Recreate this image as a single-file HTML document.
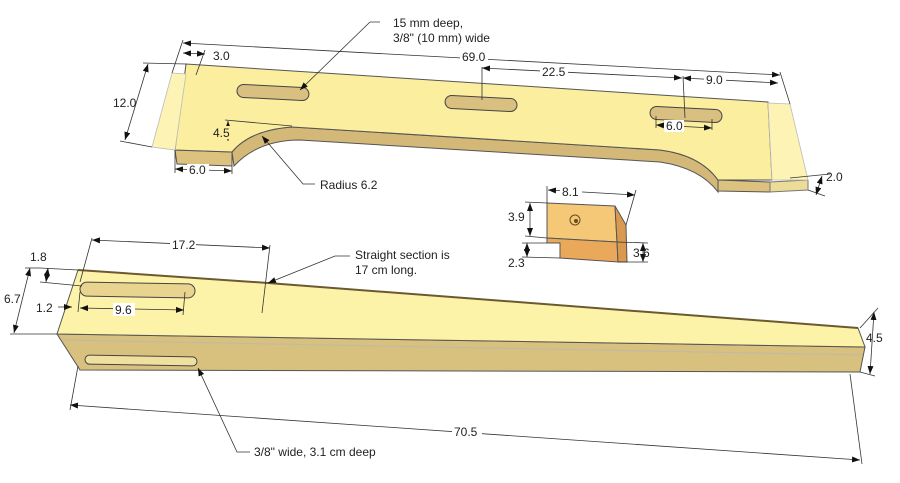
<!DOCTYPE html>
<html><head><meta charset="utf-8"><style>
html,body{margin:0;padding:0;background:#fff;}
svg{display:block;}
text{font-family:"Liberation Sans",sans-serif;font-size:12px;fill:#222;}
</style></head><body>
<svg width="900" height="483" viewBox="0 0 900 483" xmlns="http://www.w3.org/2000/svg">
<defs>
<marker id="a" markerWidth="8" markerHeight="6" refX="8" refY="3" orient="auto-start-reverse" markerUnits="userSpaceOnUse"><path d="M0,0 L8,3 L0,6 z" fill="#111"/></marker>
</defs>

<!-- TOP PIECE -->
<polygon points="175,150 232,152 232,166 177,164" fill="#dcc27e" stroke="#555" stroke-width="1"/>
<path d="M232,152 Q250,130 292,127 L660,150 Q700,155 718,180 L718,192 Q700,168 660,162 L300,140 Q258,140 234,166 Z" fill="#d4b877" stroke="#555" stroke-width="1"/>
<polygon points="718,180 770,182 770,192 718,191" fill="#dcc27e" stroke="#555" stroke-width="1"/>
<polygon points="770,182 808,180 808,190 770,192" fill="#ecdc98" stroke="#777" stroke-width="1"/>
<path d="M186,64 L768,102 L772,180 L718,180 Q700,155 660,150 L292,127 Q250,130 232,152 L175,150 Z" fill="#fbee9f" stroke="#555" stroke-width="1"/>
<polygon points="172,73 186,74 175,150 152,147" fill="#fcf3b4" stroke="#bbb" stroke-width="0.8"/>
<polygon points="768,103 790,104 808,180 772,180" fill="#fcf3b4" stroke="#bbb" stroke-width="0.8"/>
<g fill="#d9c080" stroke="#444" stroke-width="1">
<rect x="237" y="86" width="72" height="13" rx="6.5" transform="rotate(3 273 92)"/>
<rect x="445" y="97" width="72" height="13" rx="6.5" transform="rotate(3 481 104)"/>
<rect x="650" y="108" width="72" height="13" rx="6.5" transform="rotate(3 686 115)"/>
</g>

<!-- BOTTOM PIECE -->
<polygon points="57,334 865,347 860,372 80,370" fill="#d8c07e" stroke="#555" stroke-width="1"/>
<polygon points="78,270 268,283 858,328 865,347 57,334" fill="#fcf3a8" stroke="#555" stroke-width="1"/>
<polyline points="78,270 268,283 858,328" fill="none" stroke="#6b5a30" stroke-width="2"/>
<line x1="62" y1="340" x2="862" y2="355" stroke="#bba" stroke-width="1"/>
<rect x="80" y="283" width="115" height="14" rx="7" fill="#e8d38f" stroke="#444" stroke-width="1" transform="rotate(1 137 290)"/>
<rect x="85" y="356" width="112" height="9" rx="4.5" fill="#efe0a0" stroke="#444" stroke-width="1" transform="rotate(1 140 360)"/>

<!-- BLOCK -->
<polygon points="547,203 615,206 617,242 547,238" fill="#f5c878" stroke="#555" stroke-width="1"/>
<polygon points="547,238 617,242 618,262 560,258 560,243 547,243" fill="#e9a85a" stroke="#555" stroke-width="1"/>
<polygon points="615,206 626,225 627,262 618,262 617,242" fill="#d99a50" stroke="#555" stroke-width="1"/>
<circle cx="575" cy="220" r="5" fill="none" stroke="#6b4a20"/><circle cx="576" cy="221" r="2" fill="#6b4a20"/>

<!-- DIMENSIONS -->
<g stroke="#333" stroke-width="0.8" fill="none">
<line x1="183" y1="40" x2="172" y2="73"/>
<line x1="780" y1="72" x2="790" y2="104"/>
<line x1="183" y1="43" x2="780" y2="75" marker-start="url(#a)" marker-end="url(#a)"/>
<line x1="205" y1="50" x2="196" y2="75"/>
<line x1="183" y1="53" x2="205" y2="54" marker-start="url(#a)" marker-end="url(#a)"/>
<line x1="482" y1="67" x2="482" y2="100"/>
<line x1="482" y1="68" x2="682" y2="78" marker-start="url(#a)" marker-end="url(#a)"/>
<line x1="683" y1="76" x2="685" y2="118"/>
<line x1="683" y1="78" x2="778" y2="83" marker-start="url(#a)" marker-end="url(#a)"/>
<line x1="656" y1="116" x2="656" y2="128"/><line x1="712" y1="119" x2="712" y2="130"/>
<line x1="656" y1="125" x2="712" y2="128" marker-start="url(#a)" marker-end="url(#a)"/>
<line x1="143" y1="63" x2="186" y2="64"/>
<line x1="120" y1="141" x2="152" y2="147"/>
<line x1="148" y1="64" x2="125" y2="140" marker-start="url(#a)" marker-end="url(#a)"/>
<line x1="225" y1="120" x2="292" y2="126"/>
<line x1="228" y1="121" x2="228" y2="141" marker-start="url(#a)" marker-end="url(#a)"/>
<line x1="175" y1="150" x2="175" y2="173"/><line x1="232" y1="166" x2="232" y2="174"/>
<line x1="175" y1="169" x2="232" y2="171" marker-start="url(#a)" marker-end="url(#a)"/>
<line x1="790" y1="178" x2="830" y2="174"/><line x1="808" y1="190" x2="825" y2="196"/>
<line x1="822" y1="176" x2="816" y2="195" marker-start="url(#a)" marker-end="url(#a)"/>
<polyline points="380,22 370,22 300,90" marker-end="url(#a)"/>
<polyline points="315,184 303,184 262,136" marker-end="url(#a)"/>
<line x1="547" y1="186" x2="547" y2="203"/><line x1="636" y1="190" x2="626" y2="225"/>
<line x1="548" y1="190" x2="635" y2="195" marker-start="url(#a)" marker-end="url(#a)"/>
<line x1="525" y1="202" x2="547" y2="203"/><line x1="525" y1="236" x2="547" y2="238"/>
<line x1="530" y1="203" x2="530" y2="236" marker-start="url(#a)" marker-end="url(#a)"/>
<line x1="522" y1="243" x2="547" y2="243"/><line x1="522" y1="257" x2="560" y2="258"/>
<line x1="527" y1="243" x2="527" y2="257" marker-start="url(#a)" marker-end="url(#a)"/>
<line x1="617" y1="242" x2="648" y2="243"/><line x1="618" y1="262" x2="648" y2="262"/>
<line x1="643" y1="243" x2="643" y2="262" marker-start="url(#a)" marker-end="url(#a)"/>
<line x1="92" y1="238" x2="80" y2="282"/><line x1="270" y1="245" x2="262" y2="313"/>
<line x1="92" y1="240" x2="270" y2="248" marker-start="url(#a)" marker-end="url(#a)"/>
<polyline points="350,256 335,256 268,283" marker-end="url(#a)"/>
<line x1="40" y1="268" x2="78" y2="270"/><line x1="40" y1="282" x2="82" y2="286"/>
<line x1="48" y1="268" x2="46" y2="282" marker-start="url(#a)" marker-end="url(#a)"/>
<line x1="25" y1="268" x2="40" y2="268"/><line x1="10" y1="334" x2="57" y2="334"/>
<line x1="30" y1="268" x2="14" y2="333" marker-start="url(#a)" marker-end="url(#a)"/>
<line x1="80" y1="292" x2="78" y2="312"/><line x1="185" y1="292" x2="183" y2="315"/>
<line x1="80" y1="308" x2="184" y2="310" marker-start="url(#a)" marker-end="url(#a)"/>
<line x1="58" y1="307" x2="72" y2="307" marker-end="url(#a)"/>
<line x1="860" y1="328" x2="878" y2="308"/><line x1="860" y1="372" x2="875" y2="376"/>
<line x1="874" y1="312" x2="870" y2="374" marker-start="url(#a)" marker-end="url(#a)"/>
<line x1="78" y1="366" x2="70" y2="410"/><line x1="850" y1="374" x2="862" y2="464"/>
<line x1="70" y1="405" x2="860" y2="460" marker-start="url(#a)" marker-end="url(#a)"/>
<polyline points="250,452 237,452 198,368" marker-end="url(#a)"/>
</g>

<g fill="#fff">
<rect x="460" y="50" width="28" height="13"/>
<rect x="540" y="65" width="28" height="13"/>
<rect x="704" y="73" width="22" height="13"/>
<rect x="170" y="238" width="26" height="13"/>
<rect x="113" y="303" width="22" height="13"/>
<rect x="452" y="425" width="30" height="13"/>
<rect x="560" y="185" width="22" height="13"/>
<rect x="664" y="120" width="20" height="12"/>
<rect x="187" y="164" width="22" height="12"/>
</g>
<rect x="212" y="126" width="20" height="13" fill="#fbee9f"/>
<text x="393" y="27">15 mm deep,</text>
<text x="393" y="42">3/8" (10 mm) wide</text>
<text x="213" y="60">3.0</text>
<text x="462" y="61">69.0</text>
<text x="542" y="76">22.5</text>
<text x="706" y="84">9.0</text>
<text x="113" y="107">12.0</text>
<text x="213" y="137">4.5</text>
<text x="666" y="130">6.0</text>
<text x="189" y="174">6.0</text>
<text x="320" y="189">Radius 6.2</text>
<text x="826" y="181">2.0</text>
<text x="562" y="196">8.1</text>
<text x="508" y="221">3.9</text>
<text x="508" y="267">2.3</text>
<text x="633" y="257">3.6</text>
<text x="172" y="249">17.2</text>
<text x="355" y="259">Straight section is</text>
<text x="355" y="274">17 cm long.</text>
<text x="30" y="261">1.8</text>
<text x="4" y="303">6.7</text>
<text x="36" y="312">1.2</text>
<text x="115" y="314">9.6</text>
<text x="866" y="342">4.5</text>
<text x="454" y="436">70.5</text>
<text x="254" y="456">3/8" wide, 3.1 cm deep</text>
</svg>
</body></html>
